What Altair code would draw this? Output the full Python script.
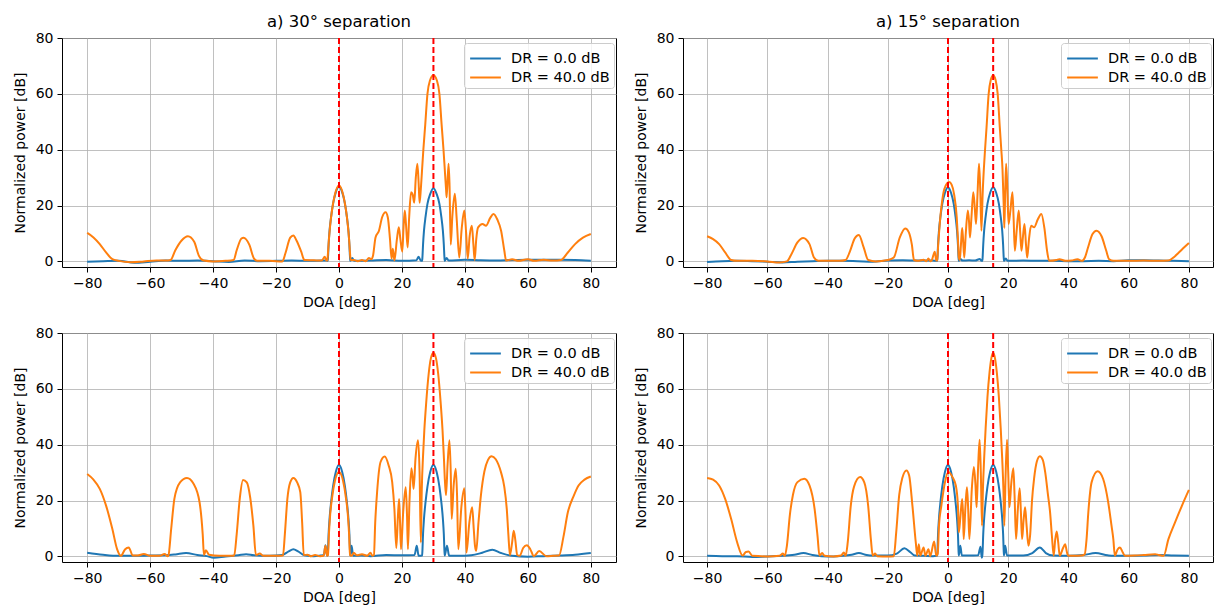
import altair as alt
import pandas as pd

SERIES = ["DR = 0.0 dB", "DR = 40.0 dB"]
COLORS = ["#1f77b4", "#ff7f0e"]
TITLES = ["a) 30° separation", "a) 15° separation"]
SEPARATIONS = [30, 15]
X_TICKS = [-80, -60, -40, -20, 0, 20, 40, 60, 80]
Y_TICKS = [0, 20, 40, 60, 80]

# ---- top-left (30 deg separation, row 1) ----
P1_BLUE = [(-80, -0.1), (-75, 0.1), (-70, 0.2), (-65, -0.5), (-60, -0.1), (-55, 0.3), (-50, 0.2), (-45, 0.3),
           (-40, 0.1), (-35, -0.2), (-30, 0.3), (-25, 0.1), (-20, 0.2), (-15, 0.3), (-10, 0.2), (-5, 0.3), (-3.8, 0.4),
           (-3.6, 0.2), (-3.5, 1.4), (-3.3, 6), (-3, 11), (-2.5, 16), (-1.9, 20.6), (-1, 24.8), (0, 26.8), (1, 24.8),
           (1.9, 20.6), (2.5, 16), (3, 11), (3.3, 6), (3.5, 1.4), (3.6, 0.2),
           (4.2, 1.2), (4.8, 0.2), (10, 0.3), (15, 0.5), (20, 0.2), (24.6, 0.4), (25.3, 1.7), (26.0, 0.2),
           (26.4, 0.2), (26.5, 1.4), (26.7, 6), (27, 11), (27.5, 16), (28.1, 20.6), (29, 24.2), (30, 26.2), (31, 24.2),
           (31.9, 20.6), (32.5, 16), (33, 11), (33.3, 6), (33.5, 1.4), (33.6, 0.2),
           (34.2, 1.2), (34.8, 0.3), (40, 0.6), (45, 0.4), (50, 0.3), (55, 0.5), (60, 0.6), (65, 0.6), (70, 0.6),
           (75, 0.5), (80, 0.2)]
P1_ORANGE = [(-80, 10.2), (-78, 8.6), (-76, 6.2), (-74, 3.2), (-72, 0.8), (-70, 0.2), (-66, -0.3), (-62, 0), (-58, 0.3),
             (-55, 0.3), (-53.5, 0.5), (-52, 4), (-50, 7.5), (-48, 9), (-46, 7), (-44.5, 2), (-43, 0.3), (-40, 0),
             (-36, 0.2), (-33.5, 0.5), (-32.5, 4), (-31, 8.2), (-30.3, 8.5), (-28.5, 6), (-27, 1), (-26, 0.2), (-22, 0.2),
             (-18, 0), (-17, 3), (-15.5, 8.5), (-14.5, 9.3), (-13.5, 7.5), (-12, 3.5), (-11, 0.5), (-8, 0.4), (-5.5, 0.3),
             (-4.5, 1.7), (-4, 0.3),
             (-3.7, 0.5), (-3.5, 3), (-3.2, 8), (-2.8, 13), (-2.2, 18.5), (-1.3, 24), (0, 27.2), (1.3, 24), (2.2, 18.5),
             (2.8, 13), (3.2, 8), (3.5, 3), (3.7, 0.5),
             (4.7, 0.5), (6, 0.1), (7.3, 0.5), (8.5, 0.1), (9.5, 1.2), (10.3, 0.8), (10.8, 2), (11.6, 8.6), (12.7, 11),
             (13.7, 15.8), (14.8, 17.6), (15.5, 15.8), (16.2, 8), (16.7, 1), (17.1, 4.5), (17.6, 0.3), (18.4, 8),
             (19.0, 12.2), (19.5, 8), (20.1, 3.5), (20.5, 12), (20.9, 18.2), (21.3, 13), (21.8, 5), (22.3, 16),
             (22.9, 24.8), (23.4, 24), (23.9, 21), (24.4, 30), (24.9, 35), (25.3, 28), (25.6, 21),
             (26.0, 26), (26.4, 33), (26.8, 40), (27.4, 49), (28.1, 60), (28.9, 64.8), (30, 66.7), (31.1, 64.8),
             (31.9, 60), (32.6, 49), (33.2, 40), (33.6, 33), (34.0, 26),
             (34.2, 23), (34.8, 35), (35.1, 28), (35.5, 6), (36.0, 16), (36.8, 24.2), (37.4, 15), (38.2, 1.4), (39.0, 12),
             (39.8, 18.2), (40.4, 10), (40.9, 1), (41.5, 9), (42.2, 12.8), (42.7, 6), (43.1, 0.5), (43.6, 8), (44.2, 12.2),
             (45.6, 13.4), (46.7, 12.8), (48.0, 15.5), (49.1, 17), (50.3, 15), (51.5, 11), (52.5, 4), (53.1, 0.3),
             (55, 0.8), (57, 0.2), (60, 0.8), (62, 0.2), (65, 0.6), (68, 0.3), (70.5, 0.5), (72.7, 3.2), (75, 6.2),
             (77.5, 8.5), (80, 9.8)]

# ---- top-right (15 deg separation, row 1) ----
P2_BLUE = [(-80, -0.2), (-75, 0.1), (-70, 0.2), (-65, 0.1), (-60, -0.1), (-55, -0.4), (-50, -0.1), (-45, 0.1),
           (-40, 0.2), (-35, 0.2), (-30, 0.1), (-25, -0.1), (-20, 0.3), (-15, 0.4), (-10, 0.3), (-5, 0.3), (-3.8, 0.2),
           (-3.6, 0.2), (-3.5, 1.4), (-3.3, 6), (-3, 11), (-2.5, 16), (-1.9, 20.6), (-1, 24.6), (0, 26.6), (1, 24.6),
           (1.9, 20.6), (2.5, 16), (3, 11), (3.3, 6), (3.5, 1.4), (3.6, 0.2),
           (4.1, 0.9), (4.8, 0.3), (7, 0.4), (9, 0.3), (10.6, 0.9), (11.1, 0.2),
           (11.4, 0.2), (11.5, 1.4), (11.7, 6), (12, 11), (12.5, 16), (13.1, 20.6), (14, 24.6), (15, 26.6), (16, 24.6),
           (16.9, 20.6), (17.5, 16), (18, 11), (18.3, 6), (18.5, 1.4), (18.6, 0.2),
           (19.2, 1.0), (19.8, 0.2), (25, 0.3), (30, 0.2), (35, 0.2), (40, 0.1), (45, 0.1), (50, 0.2), (55, 0.1),
           (60, 0.4), (65, 0.4), (70, 0.3), (75, 0.2), (80, 0.1)]
P2_ORANGE = [(-80, 9.0), (-78, 8), (-76, 6.2), (-74, 3.2), (-72, 0.5), (-70, 0.2), (-65, 0.2), (-60, 0), (-56, -0.4),
             (-53.5, 0), (-52, 2.6), (-50, 6.8), (-48.1, 8.4), (-46, 6.2), (-44.5, 1.4), (-43, 0.2), (-40, 0.2),
             (-36, 0.2), (-34, 0.5), (-32.5, 3.8), (-31, 8.2), (-29.6, 9.5), (-28, 5), (-26.5, 0.5), (-24, 0), (-20, 0.5),
             (-18, 1.4), (-16, 8.6), (-14.2, 11.8), (-13, 10.4), (-12, 6), (-11.3, 0.5), (-10, 0.2), (-8.1, 0.6),
             (-7.2, 0.1), (-6.5, 1.0), (-5.9, 0.1), (-5.4, 0.4), (-4.4, 3.5), (-3.9, 0.3),
             (-3.6, 0.5), (-3.2, 7), (-2.7, 14), (-2.2, 19.4), (-1.2, 26), (0.4, 28.4), (1.2, 27.5), (2.0, 24.2),
             (2.9, 15.8), (3.3, 8), (3.6, 1.4),
             (3.9, 0.5), (4.3, 6), (4.7, 12), (5.0, 8), (5.4, 1.4), (5.9, 10), (6.6, 18.2), (7.0, 14), (7.3, 8.6),
             (7.8, 16), (8.4, 24.8), (8.9, 19), (9.3, 13.4), (9.8, 24), (10.3, 35), (10.7, 26), (11.1, 11),
             (11.5, 24), (11.9, 33), (12.3, 40), (12.8, 48), (13.5, 60), (14.2, 65), (15, 66.7), (15.8, 65), (16.5, 60),
             (17.2, 48), (17.7, 40), (18.1, 33), (18.5, 20), (18.7, 12),
             (19.0, 25), (19.3, 35), (19.7, 26), (20.1, 13.4), (20.7, 18), (21.4, 24.8), (21.8, 15), (22.2, 3.8),
             (22.8, 11), (23.5, 18.2), (24.0, 10), (24.4, 3.8), (24.9, 9), (25.4, 13.4), (25.9, 6), (26.3, 1.4),
             (26.9, 8), (27.6, 12.8), (28.6, 12.2), (29.8, 15), (31.0, 17), (32.0, 12), (32.9, 3.8), (33.6, 0.2),
             (36, 0.5), (37, 0.8), (39, 0.2), (41, 0.3), (43, 0.8), (44.5, 0.2), (45.5, 1.5), (46.5, 5), (48, 9.8),
             (49.3, 11), (51, 9), (52.5, 4), (53.5, 0.8), (55, 0.2), (60, 0.2), (65, 0.3), (70, 0.2), (73.2, 0.3),
             (75, 1.5), (76.5, 3), (78, 4.6), (80, 6.6)]

# ---- bottom-left (30 deg separation, row 2) ----
P3_BLUE = [(-80, 1.3), (-75, 0.6), (-70, 0.2), (-65, 0.2), (-60, 0.3), (-55, 0.4), (-52, 0.7), (-48.6, 1.2), (-45, 0.5),
           (-42, 0.1), (-39.8, -0.5), (-36, 0), (-32, 0.4), (-29.5, 0.8), (-27, 0.4), (-22, 0.2), (-18, 0.5), (-16, 1.8),
           (-14.5, 2.6), (-13, 1.8), (-11, 0.4), (-8, 0.1), (-6, 0.3), (-4.8, 0.5), (-4.3, 4), (-3.8, 0.3),
           (-3.6, 0.3), (-3.5, 2), (-3.3, 8), (-3, 13.5), (-2.5, 19.5), (-1.9, 25), (-1, 30.3), (0, 32.8), (1, 30.3),
           (1.9, 25), (2.5, 19.5), (3, 13.5), (3.3, 8), (3.5, 2), (3.6, 0.3),
           (4.0, 3.8), (4.5, 0.2), (7, 0.3), (10, 0.1), (15, 0.5), (20, 0.4), (24, 0.5), (24.7, 3.8), (25.3, 0.2),
           (26.4, 0.3), (26.5, 2), (26.7, 8), (27, 13.5), (27.5, 19.5), (28.1, 25), (29, 30.3), (30, 32.8), (31, 30.3),
           (31.9, 25), (32.5, 19.5), (33, 13.5), (33.3, 8), (33.5, 2), (33.6, 0.3),
           (34.3, 3.8), (35, 0.2), (38, 0.2), (42, 0.4), (45.5, 1.3), (48.7, 2.4), (51.5, 1.2), (55, 0.2), (60, -0.1),
           (65, 0.1), (70, 0.3), (75, 0.6), (80, 1.2)]
P3_ORANGE = [(-80, 29.5), (-78, 27.5), (-76, 24.2), (-74, 18.2), (-72, 9.8), (-70.5, 2.6), (-69.3, 0.2), (-68, 2.5),
             (-66.8, 3.2), (-65.5, 0.3), (-64, 0.3), (-62, 0.9), (-60, 0.2), (-57, 0.2), (-55.4, 0.9), (-54.5, 0.1),
             (-54.2, 0.3), (-53.3, 10), (-52.3, 20.6), (-50.5, 26.5), (-48.3, 28.1), (-46.2, 26), (-44.3, 19.4),
             (-43.3, 8), (-42.9, 0.5), (-42.3, 2.2), (-41.3, 0.6), (-38, 0.2), (-34, 0.2),
             (-33.3, 0.3), (-32.5, 8), (-31.5, 21), (-30.5, 27.4), (-29.3, 26.5), (-28.2, 21), (-27.2, 11), (-26.4, 0.5),
             (-25.2, 1.0), (-24, 0.2), (-20, 0.2),
             (-17.8, 0.3), (-17.2, 8), (-16.4, 20.6), (-15.5, 26.5), (-14.5, 28.1), (-13.3, 26.5), (-12.3, 23),
             (-11.7, 12), (-11.2, 0.5), (-10, 0.6), (-9, 0.1), (-7.6, 0.5), (-6, 0.1), (-4.9, 0.2), (-4.3, 3.8),
             (-3.8, 0.2),
             (-3.5, 0.5), (-3.2, 8), (-2.8, 15), (-2.2, 21), (-1.3, 27), (0, 30.2), (1.3, 27), (2.2, 21), (2.8, 15),
             (3.2, 8), (3.5, 0.5),
             (4.0, 0.2), (4.7, 1.3), (5.7, 0.4), (7.3, 0.8), (8.9, 0.2), (10.0, 1.3), (10.6, 0.2),
             (11.1, 0.5), (11.5, 12), (12.1, 23), (13.2, 33.8), (14.5, 35.8), (15.8, 32.5), (16.9, 26.6), (17.6, 17),
             (18.2, 3),
             (18.7, 14), (19.1, 20.6), (19.4, 12), (19.7, 2.6), (20.4, 16), (21.2, 24.8), (21.6, 15), (21.9, 2.6),
             (22.4, 20), (23.0, 31.6), (23.4, 28), (23.7, 24.2), (24.3, 35), (25.1, 41.6), (25.6, 30), (26.0, 5),
             (26.3, 24), (26.7, 36), (27.1, 45), (27.7, 55), (28.5, 65.5), (29.2, 71), (30, 72.9), (30.8, 71),
             (31.5, 65.5), (32.3, 55), (32.9, 45), (33.3, 36), (33.7, 26), (34.0, 22),
             (34.5, 33), (35.1, 41.6), (35.5, 30), (35.8, 13.4), (36.4, 25), (37.1, 31.4), (37.5, 22), (37.9, 2.6),
             (38.9, 18), (39.8, 24.4), (40.2, 15), (40.5, 1.4), (41.4, 12), (42.3, 17.6), (42.8, 10), (43.2, 3.8),
             (43.6, 2), (44.3, 12), (45.1, 22), (46.2, 30.5), (47.3, 34.5), (48.5, 35.9), (49.8, 34.8), (51.5, 30),
             (52.5, 25), (53.3, 17), (53.8, 8), (54.3, 0.5),
             (55.0, 5), (55.5, 9.2), (56.0, 6), (56.6, 0.5), (57.4, 0.2), (58.5, 3), (59.7, 4), (60.8, 2.5), (61.9, 0.1),
             (63.6, 1.9), (65.9, 0.1), (68, 0.2), (69.9, 0.3), (71.3, 7), (72.7, 15.8), (74.5, 21.5), (76.1, 25.4),
             (78, 27.5), (80, 28.6)]

# ---- bottom-right (15 deg separation, row 2) ----
P4_BLUE = [(-80, 0.2), (-75, 0.1), (-70, 0.1), (-65, -0.2), (-60, 0), (-55, 0.2), (-51, 0.6), (-48, 1.2), (-45, 0.5),
           (-42, 0.1), (-38, 0), (-35, 0.2), (-32, 0.6), (-29.6, 1.2), (-27, 0.5), (-25, 0.3), (-20, 0.3), (-17, 1.0),
           (-14.5, 2.9), (-12.5, 1.5), (-11, 0.3), (-8, 0.2), (-5, 0.1), (-3.7, 0.2),
           (-3.6, 0.3), (-3.5, 2), (-3.3, 8), (-3, 13.5), (-2.5, 19.5), (-1.9, 25), (-1, 30.3), (0, 32.8), (1, 30.3),
           (1.9, 25), (2.5, 19.5), (3, 13.5), (3.3, 8), (3.5, 2), (3.6, 0.3),
           (4.1, 3.8), (4.6, 0.3), (7, 0.3), (10, 0.4), (10.8, 3.5), (11.2, -0.5),
           (11.4, 0.3), (11.5, 2), (11.7, 8), (12, 13.5), (12.5, 19.5), (13.1, 25), (14, 30.3), (15, 32.8), (16, 30.3),
           (16.9, 25), (17.5, 19.5), (18, 13.5), (18.3, 8), (18.5, 2), (18.6, 0.3),
           (19.0, 3.8), (19.6, 0.3), (25, 0.3), (28, 1.2), (30.5, 3.2), (32.5, 1.2), (35, 0.3), (40, 0.2), (45, 0.5),
           (49, 1.2), (53, 0.4), (55, 0.2), (60, 0.2), (65, 0.3), (70, 0.5), (75, 0.3), (80, 0.2)]
P4_ORANGE = [(-80, 28.1), (-78, 27.5), (-76, 25.4), (-74, 20.6), (-72, 13.4), (-70, 5), (-68.2, 0.3), (-67.2, 1.5),
             (-66.2, 1.8), (-65, 0.2), (-60, 0), (-56, 0.2), (-54.8, 1.0), (-54.2, 0.2), (-53.5, 3.8), (-52.5, 15),
             (-51.5, 22), (-50, 26.6), (-47.7, 27.8), (-46, 25.4), (-44.3, 17), (-43.3, 7), (-42.7, 0.3), (-41.8, 1.2),
             (-41, 0.2), (-38, 0), (-35.5, 0.3), (-34.6, 1.4), (-34, 0.2), (-33.3, 5), (-32.3, 18), (-31.2, 25),
             (-29.2, 28.4), (-27.8, 26.5), (-26.5, 18), (-25.6, 6), (-25, 0.3), (-24.2, 1.0), (-23.5, 0.1), (-20, 0),
             (-18, 0.1), (-17.2, 8.6), (-16.2, 22), (-15.2, 28), (-13.8, 30.8), (-12.9, 29), (-11.8, 18), (-10.7, 5),
             (-10.2, 0.3), (-9.7, 4.4), (-9.2, 0.3), (-8.1, 3.2), (-7.5, 0.2), (-6.5, 2.6), (-5.9, 0.1), (-4.6, 5.3),
             (-3.9, 0.2),
             (-3.4, 1), (-3.0, 11), (-2.2, 18.2), (-1.0, 26.6), (0.1, 30.2), (1.5, 28.4), (2.6, 25.4), (3.3, 18.2),
             (3.6, 8.6), (4.1, 14), (4.7, 20.6), (5.0, 15), (5.2, 6.2), (5.8, 18), (6.3, 24.8), (6.7, 17), (7.1, 6.2),
             (7.9, 24), (8.6, 32), (9.1, 26), (9.5, 17.6), (10.0, 32), (10.5, 41.8), (10.9, 30), (11.3, 11),
             (11.6, 24), (12.0, 35), (12.5, 46), (13.1, 57), (13.8, 66), (14.4, 71), (15, 72.9), (15.6, 71), (16.2, 66),
             (16.9, 57), (17.5, 46), (18.0, 35), (18.4, 24), (18.7, 11),
             (19.1, 28), (19.6, 41.8), (20.0, 30), (20.4, 17.6), (21.0, 26), (21.7, 31.6), (22.1, 22), (22.6, 6.2),
             (23.2, 17), (23.8, 24.4), (24.2, 16), (24.6, 6.2), (25.1, 13), (25.6, 17.6), (26.1, 11), (26.7, 3.8),
             (27.3, 8), (27.9, 20), (28.6, 28), (29.5, 34), (30.5, 35.9), (31.5, 34.5), (32.3, 30), (33.2, 22),
             (33.9, 15.8), (34.5, 7.4), (35.1, 0.3),
             (35.6, 6), (36.1, 8.9), (36.6, 5), (37.1, 0.3), (38.2, 3), (38.9, 4.4), (39.5, 1.5), (39.9, 0.2), (42, 0.2),
             (44.3, 0.3), (45.4, 0.8), (46.0, 6), (46.6, 15.8), (47.7, 26.6), (49.7, 30.5), (51.5, 27.8), (53.2, 19.4),
             (54.3, 11), (54.9, 6.2), (55.4, 0.3), (56.3, 2.5), (57.1, 3.2), (58, 1.5), (58.8, 0.2), (62, 0.3),
             (65, 0.5), (68.8, 0.8), (70, 0.5), (71.6, 0.2), (73.2, 6.2), (75.4, 12.2), (77.7, 18.2), (80, 23.8)]

FONT = "DejaVu Sans"
HEIGHT = 229
LEGEND_W = 143


def panel(blue, orange, sep, title, width):
    rows = []
    for name, pts in zip(SERIES, (blue, orange)):
        rows += [{"deg": x, "db": y, "series": name} for x, y in pts]
    df = pd.DataFrame(rows)
    xs = alt.Scale(domain=[-88, 88], nice=False, zero=False)
    ys = alt.Scale(domain=[-2, 80], nice=False, zero=False)
    lines = alt.Chart(df).mark_line(strokeWidth=2, interpolate="monotone", clip=True).encode(
        x=alt.X("deg:Q", scale=xs, axis=alt.Axis(values=X_TICKS, title="DOA [deg]")),
        y=alt.Y("db:Q", scale=ys, axis=alt.Axis(values=Y_TICKS, title="Normalized power [dB]")),
        color=alt.Color(
            "series:N",
            scale=alt.Scale(domain=SERIES, range=COLORS),
            legend=alt.Legend(
                title=None, orient="none", legendX=width - 9 - LEGEND_W, legendY=5,
                direction="vertical", symbolType="M-1.5,0H1.5", symbolSize=420, symbolStrokeWidth=2,
                symbolOffset=6, labelFont=FONT, labelFontSize=14.5, labelColor="black", labelOffset=14,
                padding=4, rowPadding=1, strokeColor="#cccccc",
                fillColor="rgba(255,255,255,0.8)", cornerRadius=3,
            ),
        ),
    )
    rules = alt.Chart(pd.DataFrame({"deg": [0, sep]})).mark_rule(
        color="red", strokeDash=[6, 3], strokeWidth=2
    ).encode(x=alt.X("deg:Q", scale=xs))
    ch = alt.layer(lines, rules).properties(width=width, height=HEIGHT)
    if title:
        ch = ch.properties(title=alt.TitleParams(
            text=title, font=FONT, fontSize=16.5, fontWeight="normal", color="black",
            offset=1, anchor="middle"))
    return ch


top = alt.hconcat(
    panel(P1_BLUE, P1_ORANGE, SEPARATIONS[0], TITLES[0], 554),
    panel(P2_BLUE, P2_ORANGE, SEPARATIONS[1], TITLES[1], 530),
    spacing=16,
).resolve_scale(color="independent").resolve_legend(color="independent")
bottom = alt.hconcat(
    panel(P3_BLUE, P3_ORANGE, SEPARATIONS[0], None, 554),
    panel(P4_BLUE, P4_ORANGE, SEPARATIONS[1], None, 530),
    spacing=16,
).resolve_scale(color="independent").resolve_legend(color="independent")

chart = alt.vconcat(top, bottom, spacing=15).resolve_scale(
    color="independent").resolve_legend(color="independent").properties(
    padding={"left": 4, "top": 5, "right": 0, "bottom": 0}
).configure_view(stroke="black", strokeWidth=1).configure_axis(
    labelFont=FONT, labelFontSize=14, titleFont=FONT, titleFontSize=14, titleFontWeight="normal",
    labelColor="black", titleColor="black", tickColor="black", tickSize=5, tickWidth=1,
    gridColor="#b0b0b0", gridWidth=0.8, domain=False, labelFlush=False, labelOverlap=False,
    labelPadding=4,
).configure_axisX(titlePadding=5).configure_axisY(titlePadding=8)

chart.save("out.html", embed_options={"renderer": "svg", "actions": False})
